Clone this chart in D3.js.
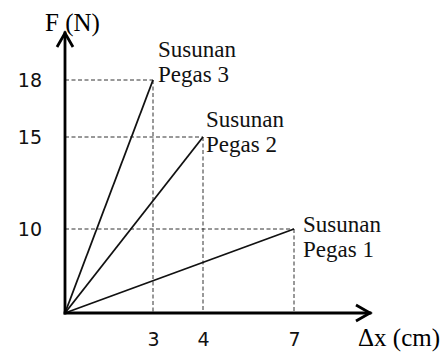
<!DOCTYPE html>
<html>
<head>
<meta charset="utf-8">
<script src="https://cdn.jsdelivr.net/npm/d3@7"></script>
<style>
  html, body { margin: 0; padding: 0; background: #fff; }
  svg { display: block; }
  .tick text { font-family: "DejaVu Sans", sans-serif; font-size: 19px; fill: #111; }
</style>
</head>
<body>
<div id="chart"></div>
<script>
// values
const SERIES = ['Pegas 1', 'Pegas 2', 'Pegas 3'];
const DX = [7, 4, 3];       // cm
const F = [10, 15, 18];     // N
const X_TICKS = [3, 4, 7];
const Y_TICKS = [10, 15, 18];

// the drawing is a sketch, axes are not to scale -> piecewise scales
const X_POS = [65, 153, 203, 294];
const Y_POS = [313, 229, 137, 80];
// label placement per series (offset from the end point)
const LABEL_DX = [9, 3, 5];
const LABEL_DY = [3, -10, -23];

const W = 448, H = 353;
const serif = '"Liberation Serif", "Times New Roman", serif';
const sans = '"DejaVu Sans", sans-serif';

const svg = d3.select('#chart').append('svg')
  .attr('width', W).attr('height', H);

const x = d3.scaleLinear().domain([0, ...X_TICKS]).range(X_POS);
const y = d3.scaleLinear().domain([0, ...Y_TICKS]).range(Y_POS);

const x0 = x(0), y0 = y(0);
const data = SERIES.map((s, i) => ({ name: s, dx: DX[i], f: F[i], i }));

// dashed guides
const guides = svg.append('g')
  .attr('stroke', '#333').attr('stroke-width', 1).attr('stroke-dasharray', '4,2.5');
guides.selectAll('line.h').data(data).join('line').attr('class', 'h')
  .attr('x1', x0).attr('x2', d => x(d.dx))
  .attr('y1', d => y(d.f)).attr('y2', d => y(d.f));
guides.selectAll('line.v').data(data).join('line').attr('class', 'v')
  .attr('x1', d => x(d.dx)).attr('x2', d => x(d.dx))
  .attr('y1', d => y(d.f)).attr('y2', y0);

// spring lines
svg.append('g').selectAll('line').data(data).join('line')
  .attr('x1', x0).attr('y1', y0)
  .attr('x2', d => x(d.dx)).attr('y2', d => y(d.f))
  .attr('stroke', '#111').attr('stroke-width', 1.8);

// axes with arrows
const ax = svg.append('g').attr('stroke', '#000').attr('stroke-width', 2.8)
  .attr('fill', 'none').attr('stroke-linecap', 'square');
ax.append('path').attr('d', `M${x0},${y0}V33`);
ax.append('path').attr('d', `M${x0 - 8},47L${x0},33L${x0 + 8},47`).attr('stroke-linecap', 'butt');
ax.append('path').attr('d', `M${x0},${y0}H370`);
ax.append('path').attr('d', `M356,${y0 - 8}L370,${y0}L356,${y0 + 8}`).attr('stroke-linecap', 'butt');

// tick labels through d3 axes
const yAxis = svg.append('g').attr('transform', `translate(${x0},0)`)
  .call(d3.axisLeft(y).tickValues(Y_TICKS).tickFormat(d3.format('d')).tickSize(0).tickPadding(23));
const xAxis = svg.append('g').attr('transform', `translate(0,${y0})`)
  .call(d3.axisBottom(x).tickValues(X_TICKS).tickFormat(d3.format('d')).tickSize(0).tickPadding(20));
[yAxis, xAxis].forEach(g => {
  g.attr('font-family', sans).attr('font-size', 19);
  g.select('.domain').remove();
});

// axis titles
svg.append('text').attr('x', 45).attr('y', 31)
  .style('font-family', serif).style('font-size', '25px').text('F (N)');
svg.append('text').attr('x', 358).attr('y', 346)
  .style('font-family', serif).style('font-size', '25px').text('\u0394x (cm)');

// series labels
const lab = svg.append('g').selectAll('text').data(data).join('text')
  .attr('x', d => x(d.dx) + LABEL_DX[d.i])
  .attr('y', d => y(d.f) + LABEL_DY[d.i])
  .style('font-family', serif).style('font-size', '23px').attr('fill', '#111');
lab.append('tspan').text('Susunan');
lab.append('tspan').attr('x', d => x(d.dx) + LABEL_DX[d.i]).attr('dy', 25).text(d => d.name);
</script>
</body>
</html>
